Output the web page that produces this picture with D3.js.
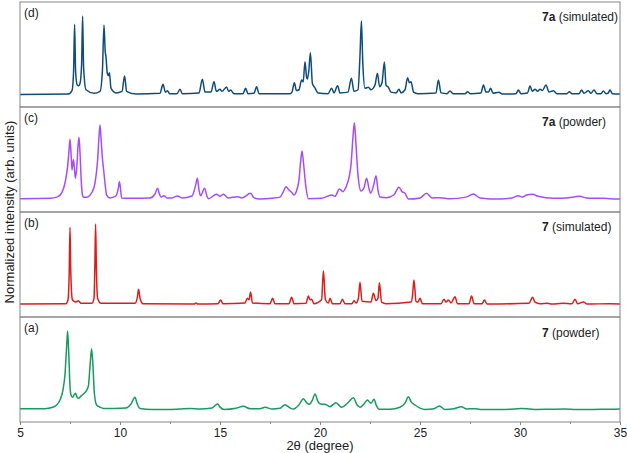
<!DOCTYPE html>
<html>
<head>
<meta charset="utf-8">
<script src="https://cdn.jsdelivr.net/npm/d3@7"></script>
<style>
  body { margin: 0; background: #fff; }
  svg { display: block; font-family: "Liberation Sans", Arial, sans-serif; }
</style>
</head>
<body>
<div id="chart"></div>
<script>
// 2theta (degree), normalized intensity
const sim7a = [[5,0],[7.4,0.5],[7.6,5],[7.68,30],[7.73,89.5],[7.78,30],[7.86,12],[7.93,11],[8.0,14],[8.08,38],[8.13,100],[8.18,35],[8.3,6],[8.7,1.5],[9.0,4],[9.12,30],[9.2,88.6],[9.26,55],[9.3,48],[9.36,28],[9.42,24],[9.47,27.8],[9.55,8],[9.8,2],[10.1,4],[10.23,23.6],[10.33,4],[10.8,0.5],[12.0,1.5],[12.15,13],[12.27,3],[12.37,4.8],[12.48,1],[12.85,1],[13.0,6.6],[13.12,1],[13.95,2],[14.12,19.4],[14.25,3],[14.55,3],[14.7,16.3],[14.82,4],[15.0,6.6],[15.1,4],[15.33,9.6],[15.43,4],[15.53,5.7],[15.7,1],[16.15,1],[16.28,7.9],[16.4,1],[16.7,1.5],[16.83,10],[16.95,1],[18.5,1],[18.6,3],[18.72,15],[18.82,5],[18.95,6],[19.08,18.5],[19.16,16],[19.25,41.8],[19.33,22],[19.37,19.8],[19.44,30],[19.52,53.3],[19.62,14],[19.75,8.3],[19.9,2],[20.4,1],[20.58,7.9],[20.7,2],[20.88,11.2],[21.0,2],[21.4,3],[21.57,20.7],[21.7,4],[21.9,6],[22.0,50],[22.07,93.7],[22.14,40],[22.25,8],[22.42,9.2],[22.55,6],[22.75,12],[22.87,27],[22.98,10],[23.1,15],[23.22,41.5],[23.3,12],[23.42,9.2],[23.55,3],[23.8,2],[23.95,6.6],[24.05,2],[24.25,6],[24.38,21.4],[24.47,15],[24.55,16.3],[24.68,3],[24.9,1],[25.8,2],[25.92,18.5],[26.05,2],[26.35,1],[26.5,4.5],[26.65,1],[27.25,1],[27.38,3.6],[27.5,1],[28.05,2],[28.17,12.1],[28.3,3],[28.42,3],[28.53,7.9],[28.65,1.5],[28.95,2.8],[29.1,0.5],[29.8,1],[29.92,5.7],[30.05,1],[30.38,2],[30.5,10.8],[30.62,4],[30.75,6.6],[30.88,4],[31.0,6.6],[31.12,5],[31.3,12.1],[31.45,3],[31.67,4.8],[31.85,1],[32.35,1],[32.47,3.6],[32.6,1],[32.95,1],[33.08,5.7],[33.2,1.5],[33.42,4.8],[33.55,1.5],[33.7,5.7],[33.85,1],[34.05,1],[34.17,4.5],[34.3,1],[34.4,1.5],[34.5,5.7],[34.62,1],[35,0.5]];

const powder7a = [[5,1],[6.5,1.5],[6.9,3.6],[7.1,9],[7.25,21],[7.38,42],[7.45,62],[7.5,77],[7.55,60],[7.6,37.6],[7.67,51],[7.72,40],[7.77,27],[7.85,45],[7.9,68],[7.95,79.3],[8.0,60],[8.06,25],[8.12,6],[8.17,2.8],[8.33,2.8],[8.58,8.3],[8.75,21],[8.88,50],[8.95,80],[9.0,95],[9.06,75],[9.12,52.6],[9.18,38],[9.25,21],[9.33,5.7],[9.5,2],[9.8,4.5],[9.92,15],[9.97,22.7],[10.02,15],[10.08,2],[10.5,1.5],[11.5,2],[11.75,7],[11.88,14.3],[11.97,7],[12.05,3],[12.2,4.8],[12.35,2],[12.6,2],[12.88,4.5],[13.1,2],[13.6,4.5],[13.78,18],[13.87,27],[13.95,12],[14.03,4.8],[14.23,14.3],[14.35,4],[14.42,1],[14.83,6.6],[15.0,4],[15.17,6.6],[15.4,2],[15.87,3.6],[16.1,2],[16.53,7.9],[16.7,2],[17.0,0.6],[17.6,1.5],[18.0,3],[18.15,9],[18.3,16.3],[18.45,12],[18.58,9.2],[18.7,5.7],[18.85,13],[18.95,25],[19.03,48],[19.1,62],[19.18,45],[19.3,15],[19.42,1],[20.08,1.5],[20.58,5.7],[20.75,4],[20.97,13.4],[21.15,10],[21.3,16],[21.45,28],[21.55,44],[21.65,80],[21.72,98],[21.8,70],[21.9,31],[22.05,10.8],[22.2,15],[22.33,27],[22.45,14],[22.53,7.9],[22.68,18],[22.8,30.4],[22.9,12],[23.0,3],[23.33,2.3],[23.7,6],[23.95,15.6],[24.1,10],[24.25,7.9],[24.42,0.5],[25.0,2],[25.33,7.9],[25.6,2],[26.0,2.3],[26.5,1],[27.3,3],[27.67,7],[28.0,2],[29.0,0.5],[29.6,2],[29.92,4.8],[30.1,3],[30.33,5.7],[30.63,6.6],[30.9,4],[31.67,1.5],[32.3,2],[33.0,4],[33.3,2],[33.67,1.5],[34.2,1.5],[34.83,0.5],[35,0.5]];

const sim7 = [[5,0.5],[7.3,1],[7.4,6],[7.46,40],[7.5,98.5],[7.54,40],[7.62,6],[7.78,3],[7.92,4.8],[8.05,1.5],[8.6,1.5],[8.7,8],[8.74,45],[8.78,102.7],[8.82,45],[8.88,8],[9.05,1.5],[10.75,1.5],[10.86,8],[10.93,19.4],[11.0,8],[11.15,1],[13.7,0.5],[13.8,1.8],[13.9,0.5],[14.9,1],[15.03,5.7],[15.15,1],[16.25,2],[16.37,7.9],[16.45,6],[16.53,16],[16.62,2],[17.5,1],[17.63,7.9],[17.75,1],[18.45,1],[18.58,9.2],[18.7,1],[19.3,1.5],[19.42,10.8],[19.5,6],[19.58,6.6],[19.7,1],[20.08,6],[20.17,43],[20.27,6],[20.42,2],[20.5,7.9],[20.62,1],[21.0,1],[21.12,6.6],[21.25,1],[21.6,1],[21.7,4.8],[21.8,2],[21.92,8],[22.0,28.3],[22.1,4],[22.55,3],[22.67,14.3],[22.8,5],[22.9,8],[22.97,27.8],[23.08,3],[23.3,1],[24.55,3],[24.62,10],[24.7,31.2],[24.8,4],[24.9,3],[25.0,7.9],[25.12,1],[26.05,1],[26.2,6.6],[26.3,3],[26.42,5.7],[26.55,2],[26.75,10],[26.87,1],[27.45,1],[27.58,10.8],[27.7,1],[28.1,1],[28.22,5.7],[28.35,0.5],[30.45,1.5],[30.63,9.2],[30.75,3],[31.0,1],[31.37,1.5],[31.6,0.5],[32.13,1.5],[32.6,1],[32.75,6.6],[32.88,1],[33.17,3.2],[33.35,0.5],[34.5,1],[35,0.5]];

const powder7 = [[5,0.8],[6.0,0.8],[6.5,2],[6.8,5],[7.0,12],[7.15,25],[7.25,45],[7.32,75],[7.38,100],[7.44,70],[7.5,30],[7.55,18.5],[7.63,15.6],[7.72,19],[7.78,20.7],[7.85,16],[7.92,14.3],[8.05,17],[8.17,19.8],[8.3,23],[8.42,30],[8.5,55],[8.58,77.6],[8.65,55],[8.72,20],[8.83,5.7],[9.0,3],[9.17,1.3],[10.3,2],[10.55,7],[10.75,15.6],[10.85,8],[11.0,1.3],[11.6,0],[12.33,0],[13.0,0.6],[13.5,1.2],[14.0,0.6],[14.6,2],[14.88,7],[15.0,3],[15.2,0],[15.8,1.5],[16.17,4],[16.5,1],[17.0,1],[17.25,2.8],[17.6,0.5],[18.0,1.5],[18.25,6.1],[18.5,2],[18.67,0.6],[18.95,6],[19.17,13.8],[19.35,8],[19.47,6.6],[19.62,12],[19.75,19.8],[19.9,10],[20.03,7],[20.25,6.6],[20.5,3.6],[20.8,8.7],[21.08,2.8],[21.42,9.2],[21.67,15],[21.85,6],[22.0,2.8],[22.2,7],[22.37,12.1],[22.55,7.9],[22.7,13],[22.82,5],[22.95,0.3],[23.5,0.3],[24.0,2.8],[24.25,8],[24.42,16.3],[24.55,10],[24.75,5.7],[25.25,0],[25.7,1],[25.97,4.5],[26.25,0],[26.7,1],[27.07,3.6],[27.33,0.6],[27.75,1],[28.0,0],[29.0,0],[29.7,0.5],[30.08,1.2],[30.5,0.5],[30.83,0],[31.5,0.3],[32.25,0.6],[32.8,0],[33.67,0],[34.3,0.3],[35,0.5]];

const panelTags = ["(d)", "(c)", "(b)", "(a)"];
const compounds = ["7a", "7a", "7", "7"];
const kinds = ["(simulated)", "(powder)", "(simulated)", "(powder)"];
const colors = ["#0f4c7d", "#a64cfb", "#dd1c1c", "#179b5e"];
const series = [sim7a, powder7a, sim7, powder7];
const xTicks = [5, 10, 15, 20, 25, 30, 35];

const width = 627, height = 453;
const margin = {left: 20, right: 7, top: 2};
const panelH = 105;

const svg = d3.select("#chart").append("svg")
    .attr("width", width)
    .attr("height", height);

const x = d3.scaleLinear()
    .domain([5, 35])
    .range([margin.left, width - margin.right]);

const line = d3.line()
    .x(d => x(d[0]))
    .curve(d3.curveMonotoneX);

series.forEach((data, i) => {
    let top = margin.top + i * panelH;
    let y = d3.scaleLinear()
        .domain([-16, 118])
        .range([top + panelH, top]);

    svg.append("clipPath")
        .attr("id", `clip${i}`)
        .append("rect")
        .attr("x", x(5))
        .attr("y", top)
        .attr("width", x(35) - x(5))
        .attr("height", panelH);

    svg.append("path")
        .datum(data)
        .attr("clip-path", `url(#clip${i})`)
        .attr("fill", "none")
        .attr("stroke", colors[i])
        .attr("stroke-width", 1.5)
        .attr("stroke-linejoin", "round")
        .attr("d", line.y(d => y(d[1])));

    svg.append("rect")
        .attr("x", x(5))
        .attr("y", top)
        .attr("width", x(35) - x(5))
        .attr("height", panelH)
        .attr("fill", "none")
        .attr("stroke", "#858585")
        .attr("stroke-width", 1);

    svg.append("text")
        .attr("x", x(5) + 4)
        .attr("y", top + 15)
        .attr("font-size", 12)
        .attr("fill", "#222")
        .text(panelTags[i]);

    let legend = svg.append("text")
        .attr("x", 542)
        .attr("y", top + 19 + (i === 3 ? 1 : 0))
        .attr("font-size", 12)
        .attr("fill", "#222");
    legend.append("tspan").attr("font-weight", 700).text(compounds[i]);
    legend.append("tspan").text(" " + kinds[i]);
});

const bottom = margin.top + 4 * panelH;

svg.append("g")
    .attr("transform", `translate(0,${bottom})`)
    .call(d3.axisBottom(x).tickValues(xTicks).tickSize(3).tickFormat(d3.format("d")))
    .call(g => g.select(".domain").remove())
    .call(g => g.selectAll("line").attr("stroke", "#858585"))
    .call(g => g.selectAll("text").attr("font-size", 12).attr("fill", "#222")
        .attr("font-family", "Liberation Sans, Arial, sans-serif"));

svg.append("g")
    .attr("transform", `translate(0,${bottom})`)
    .call(d3.axisBottom(x).tickValues(d3.range(7.5, 35, 5)).tickSize(2).tickFormat(""))
    .call(g => g.select(".domain").remove())
    .call(g => g.selectAll("line").attr("stroke", "#858585"));

svg.append("text")
    .attr("x", (x(5) + x(35)) / 2)
    .attr("y", 450)
    .attr("text-anchor", "middle")
    .attr("font-size", 13)
    .attr("fill", "#222")
    .text("2θ (degree)");

svg.append("text")
    .attr("transform", `translate(14,${margin.top + 2 * panelH}) rotate(-90)`)
    .attr("text-anchor", "middle")
    .attr("font-size", 13)
    .attr("fill", "#222")
    .text("Normalized intensity (arb. units)");
</script>
</body>
</html>
